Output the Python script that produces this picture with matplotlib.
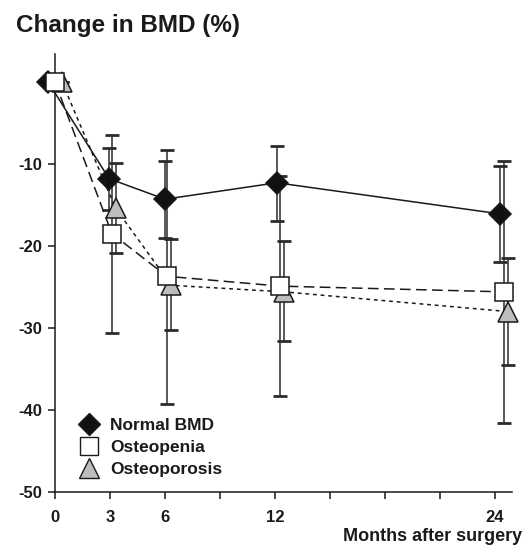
import numpy as np
import matplotlib
matplotlib.use('Agg')
import matplotlib.pyplot as plt
from matplotlib.lines import Line2D

plt.rcParams['font.family'] = ['Liberation Sans', 'DejaVu Sans']

months = [0, 3, 6, 12, 24]

# plotted x positions as read (the groups are slightly dodged in the original)
normal_x = [-0.38, 2.95, 6.0, 12.1, 24.3]
penia_x = [0.0, 3.1, 6.1, 12.27, 24.5]
porosis_x = [0.38, 3.3, 6.35, 12.5, 24.7]

# mean change in BMD (%) and the distance to the lower / upper error caps
normal_mean = [0, -11.8, -14.3, -12.3, -16.1]
normal_lo = [0, 3.8, 4.7, 4.6, 5.8]
normal_hi = [0, 3.8, 4.7, 4.5, 5.8]

penia_mean = [0, -18.5, -23.7, -24.9, -25.6]
penia_lo = [0, 12.1, 15.6, 13.4, 16.0]
penia_hi = [0, 12.0, 15.4, 13.4, 16.0]

porosis_mean = [0, -15.4, -24.8, -25.6, -28.0]
porosis_lo = [0, 5.5, 5.4, 6.0, 6.5]
porosis_hi = [0, 5.5, 5.6, 6.2, 6.5]

labels = ['Normal BMD', 'Osteopenia', 'Osteoporosis']
xticks = [0, 3, 6, 9, 12, 15, 18, 21, 24]
xticklabels = ['0', '3', '6', '', '12', '', '', '', '24']
yticks = [-50, -40, -30, -20, -10]


def draw(ax, x, y, lo, hi, ls, dash, marker, ms, fc, z):
    ax.errorbar(x, y, yerr=[lo, hi], fmt='none', ecolor='#2b2b2b',
                elinewidth=1.1, capsize=5, capthick=2.0, zorder=2, clip_on=False)
    line, = ax.plot(x, y, color='#1a1a1a', linewidth=1.1, linestyle=ls,
                    marker=marker, markersize=ms, markerfacecolor=fc,
                    markeredgecolor='#1a1a1a', markeredgewidth=1.1,
                    zorder=z, clip_on=False)
    if dash is not None:
        line.set_dashes(dash)
    return line


def main():
    fig = plt.figure(figsize=(5.32, 5.55), dpi=100)
    ax = fig.add_axes([0.1034, 0.1135, 0.8590, 0.7892])

    draw(ax, normal_x, normal_mean, normal_lo, normal_hi, '-', None, 'D', 11, '#111111', 3)
    draw(ax, porosis_x, porosis_mean, porosis_lo, porosis_hi, '--', (2.5, 2.5), '^', 14, '#bdbdbd', 4)
    draw(ax, penia_x, penia_mean, penia_lo, penia_hi, '--', (7, 3.5), 's', 13, 'white', 5)

    ax.set_xlim(0, 24.93)
    ax.set_ylim(-50, 3.4)
    ax.set_xticks(xticks)
    ax.set_xticklabels(xticklabels)
    ax.set_yticks(yticks)
    ax.set_yticklabels([str(v) for v in yticks])
    ax.tick_params(axis='both', direction='out', length=5, width=1.1,
                   labelsize=12, color='#1a1a1a', labelcolor='#1a1a1a')
    ax.tick_params(axis='x', pad=8)
    ax.tick_params(axis='y', pad=4)
    for lab in ax.get_xticklabels() + ax.get_yticklabels():
        lab.set_fontweight('bold')
    ax.spines['top'].set_visible(False)
    ax.spines['right'].set_visible(False)
    for s in ['left', 'bottom']:
        ax.spines[s].set_linewidth(1.1)
        ax.spines[s].set_color('#1a1a1a')

    handles = [
        Line2D([], [], linestyle='none', marker='D', markersize=11,
               markerfacecolor='#111111', markeredgecolor='#1a1a1a'),
        Line2D([], [], linestyle='none', marker='s', markersize=13,
               markerfacecolor='white', markeredgecolor='#1a1a1a'),
        Line2D([], [], linestyle='none', marker='^', markersize=14,
               markerfacecolor='#bdbdbd', markeredgecolor='#1a1a1a'),
    ]
    leg = ax.legend(handles, labels, loc='upper left', bbox_to_anchor=(0.025, 0.197),
                    frameon=False, fontsize=12.5, handlelength=1.2, handletextpad=0.6,
                    labelspacing=0.4, borderpad=0.2)
    for t in leg.get_texts():
        t.set_color('#1a1a1a')
        t.set_fontweight('bold')

    fig.text(0.030, 0.942, 'Change in BMD (%)', fontsize=17.5, fontweight='bold',
             color='#1a1a1a', va='baseline', ha='left')
    fig.text(0.981, 0.0252, 'Months after surgery', fontsize=13, fontweight='bold',
             color='#1a1a1a', va='baseline', ha='right')

    fig.savefig('out.png', dpi=100)


main()
